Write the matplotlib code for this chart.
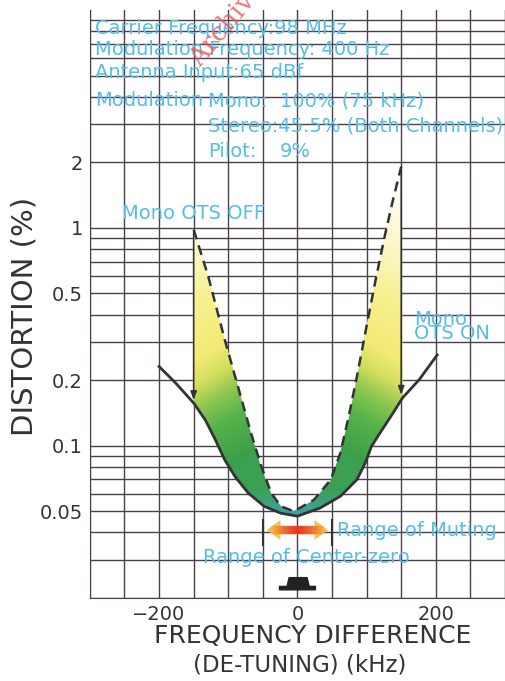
import numpy as np
import matplotlib
matplotlib.use("Agg")
import matplotlib.pyplot as plt
from matplotlib.colors import LinearSegmentedColormap, to_rgba
from matplotlib.patches import Polygon, FancyArrowPatch
from matplotlib.collections import LineCollection

# distortion (%) vs de-tuning (kHz)
x_on = [-200, -176, -150, -133, -119, -105, -90, -71, -48, -24, 0, 33, 62, 86, 98, 107, 119, 138, 152, 176, 202]
y_on = [0.231, 0.194, 0.157, 0.131, 0.107, 0.086, 0.072, 0.0606, 0.0527, 0.049, 0.0475, 0.0518, 0.0586,
        0.0699, 0.0833, 0.0993, 0.114, 0.141, 0.166, 0.201, 0.261]

x_off = [-150, -129, -105, -86, -67, -52, -38, -24, -5, 24, 48, 62, 74, 86, 98, 112, 126, 138, 150]
y_off = [0.98, 0.60, 0.306, 0.187, 0.114, 0.080, 0.0607, 0.0527, 0.050, 0.0565, 0.0698, 0.0925, 0.136,
         0.208, 0.329, 0.557, 0.912, 1.34, 1.91]

# OTS arrows: (x, top, bottom)
ots_arrows = [(-150, 0.98, 0.157), (150, 1.95, 0.166)]

muting_range = [-50, 50]
muting_y = 0.041
icon_x = [-26, 26, 26, 17, 14, -12, -15, -26]
icon_y = [0.0218, 0.0218, 0.0226, 0.0226, 0.0248, 0.0248, 0.0226, 0.0226]

xticks = [-200, 0, 200]
yticks = [0.05, 0.1, 0.2, 0.5, 1, 2]
ytick_labels = ["0.05", "0.1", "0.2", "0.5", "1", "2"]

info_lines = [
    (-293, 8.26, "Carrier Frequency:98 MHz"),
    (-293, 6.56, "Modulation Frequency: 400 Hz"),
    (-293, 5.14, "Antenna Input:65 dBf"),
    (-293, 3.83, "Modulation"),
    (-129, 3.83, "Mono:  100% (75 kHz)"),
    (-129, 2.94, "Stereo:45.5% (Both Channels)"),
    (-129, 2.25, "Pilot:"),
    (-26, 2.25, "9%"),
]

BLUE = "#55bde6"
GRID = "#4a3f4a"
INK = "#333333"

fig = plt.figure(figsize=(5.05, 6.81), dpi=100)
ax = fig.add_axes([0.178, 0.1219, 0.822, 0.8634])
ax.set_yscale("log")
ax.set_xlim(-300, 293)
ax.set_ylim(0.02, 10)

ax.set_xticks(np.arange(-300, 301, 50), minor=True)
ax.set_xticks(xticks)
ax.set_xticklabels(["\u2212200", "0", "200"], fontsize=14, color=INK)
ax.set_yticks(yticks)
ax.set_yticklabels(ytick_labels, fontsize=14, color=INK)
ax.tick_params(which="both", length=0, pad=5)
ax.grid(True, which="both", color=GRID, lw=1.0)
ax.set_axisbelow(True)
for s in ["top", "right"]:
    ax.spines[s].set_visible(False)
for s in ["left", "bottom"]:
    ax.spines[s].set_color(GRID)

# gradient fill between OTS OFF (dashed) and OTS ON (solid):
# yellow towards the outer top, green towards the inner bottom, blue at the very bottom
region = list(zip(x_off, y_off))
region += [(x, y) for x, y in zip(x_on[::-1], y_on[::-1]) if -150 <= x <= 152]
poly = Polygon(region, closed=True, fc="none", ec="none", transform=ax.transData)
ax.add_patch(poly)
stops = [(0.0, "#3d9fc8"), (0.05, "#3aa27a"), (0.10, "#3c9f48"), (0.22, "#55b24a"),
         (0.30, "#8cc650"), (0.37, "#d4de5e"), (0.44, "#f2ea74"), (0.58, "#f6ef8c"),
         (0.72, "#faf6c0"), (0.86, "#fdfbe6"), (1.0, "#ffffff")]
cmap = LinearSegmentedColormap.from_list("ots", stops)
lo, hi = np.log10(0.045), np.log10(2.1)
yy = np.logspace(lo, hi, 300)
xx = np.linspace(-160, 160, 161)
ym = np.log10(np.sqrt(yy[:-1] * yy[1:]))[:, None]
xmid = 0.5 * (xx[:-1] + xx[1:])
shift = (0.28 * np.clip(1 - np.abs(xmid) / 150, 0, 1))[None, :]
floor = np.minimum(ym, np.log10(0.064))
cc = np.maximum(ym - shift, floor)
mesh = ax.pcolormesh(xx, yy, cc, cmap=cmap, vmin=lo, vmax=hi, shading="flat", zorder=2)
mesh.set_clip_path(poly)

ax.plot(x_on, y_on, color=INK, lw=2, zorder=4, solid_joinstyle="round")
ax.plot(x_off, y_off, color=INK, lw=1.8, ls=(0, (4, 2.5)), zorder=4)
for x, top, bot in ots_arrows:
    ax.annotate("", xy=(x, bot), xytext=(x, top),
                arrowprops=dict(arrowstyle="-|>,head_length=0.5,head_width=0.18",
                                color=INK, lw=1.2), zorder=4)

# muting range arrow
xm = np.linspace(-40, 40, 81)
for x0 in muting_range:
    ax.plot([x0, x0], [0.0352, 0.0458], color=INK, lw=1.5, zorder=4)
for x0 in muting_range:
    ax.add_patch(FancyArrowPatch((0, muting_y), (x0 * 0.97, muting_y),
                                 arrowstyle="simple,head_length=0.9,head_width=1.3,tail_width=0.55",
                                 mutation_scale=11, fc="#f6c24a", ec="none", zorder=4))
segs = [[(a, muting_y), (b, muting_y)] for a, b in zip(xm[:-1], xm[1:])]
red = np.array(to_rgba("#e8341f"))
cols = []
for a in xm[:-1]:
    c = red.copy()
    c[3] = max(0.0, 1 - abs(a) / 40) ** 0.8
    cols.append(c)
ax.add_collection(LineCollection(segs, colors=cols, lw=6, zorder=5, capstyle="butt"))
ax.text(57, muting_y, "Range of Muting", color=BLUE, fontsize=14, va="center", ha="left", zorder=6)
ax.text(-136, 0.0306, "Range of Center-zero", color=BLUE, fontsize=14, va="center", ha="left", zorder=6)
ax.add_patch(Polygon(list(zip(icon_x, icon_y)), closed=True, fc="#222222", ec="#222222",
                     lw=1, joinstyle="round", zorder=5))

ax.text(-254, 1.17, "Mono OTS OFF", color=BLUE, fontsize=14, va="center", ha="left", zorder=6)
ax.text(169, 0.378, "Mono", color=BLUE, fontsize=14, va="center", ha="left", zorder=6)
ax.text(169, 0.326, "OTS ON", color=BLUE, fontsize=14, va="center", ha="left", zorder=6)
for x, y, s in info_lines:
    ax.text(x, y, s, color=BLUE, fontsize=14, va="center", ha="left", zorder=6)

fig.text(25 / 505, 1 - 316 / 681, "DISTORTION (%)", rotation=90, fontsize=21,
         color=INK, ha="center", va="center")
fig.text(313 / 505, 1 - 636 / 681, "FREQUENCY DIFFERENCE", fontsize=18, color=INK,
         ha="center", va="center")
fig.text(300 / 505, 1 - 665 / 681, "(DE-TUNING) (kHz)", fontsize=16.5, color=INK,
         ha="center", va="center")
fig.text(222 / 505, 1 - 30 / 681, "Archiv", rotation=50, fontsize=19, color="#ee5555",
         alpha=0.8, family="DejaVu Serif", ha="center", va="center")

fig.savefig("out.png", dpi=100)
